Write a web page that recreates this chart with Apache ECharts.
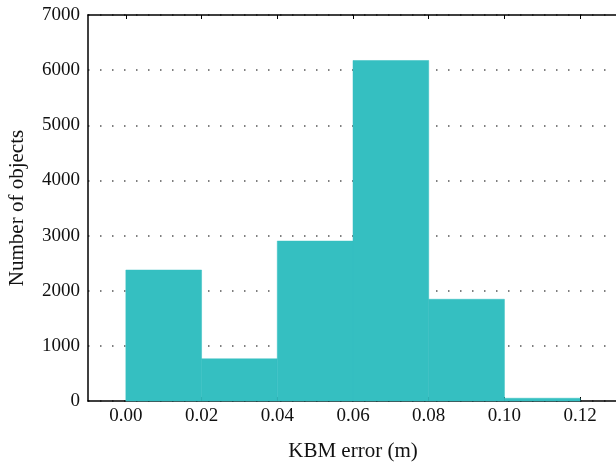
<!DOCTYPE html>
<html>
<head>
<meta charset="utf-8">
<script src="https://cdn.jsdelivr.net/npm/echarts@6/dist/echarts.min.js"></script>
<style>html,body{margin:0;padding:0;background:#fff}#c{width:616px;height:465px}</style>
</head>
<body>
<div id="c"></div>
<script>
var binStarts = [0.00, 0.02, 0.04, 0.06, 0.08, 0.10];
var binEnds = [0.02, 0.04, 0.06, 0.08, 0.10, 0.12];
var counts = [2375, 765, 2900, 6175, 1845, 50];
var xTicks = [0.00, 0.02, 0.04, 0.06, 0.08, 0.10, 0.12];

var font = 'Liberation Serif';
var chart = echarts.init(document.getElementById('c'));
var data = binStarts.map(function (s, i) { return [s, binEnds[i], counts[i]]; });
chart.setOption({
  animation: false,
  grid: { left: 88, right: -2, top: 15, bottom: 64, outerBoundsMode: 'none', containLabel: false },
  xAxis: [{
    type: 'value', min: -0.01, max: 0.13, interval: 0.01,
    name: 'KBM error (m)', nameLocation: 'middle', nameGap: 40,
    nameTextStyle: { fontFamily: font, fontSize: 21, color: '#111' },
    axisLine: { show: true, onZero: false, lineStyle: { color: '#000', width: 1.5 } },
    axisTick: { show: true, inside: true, length: 4, lineStyle: { color: '#000' },
      customValues: xTicks },
    axisLabel: { fontFamily: font, fontSize: 19, color: '#111', margin: 6,
      customValues: xTicks,
      formatter: function (v) { return v.toFixed(2); } },
    splitLine: { show: false }
  }, {
    type: 'value', position: 'top', min: -0.01, max: 0.13, interval: 0.01,
    axisLine: { show: true, onZero: false, lineStyle: { color: '#000', width: 1.5 } },
    axisTick: { show: true, inside: true, length: 4, lineStyle: { color: '#000' },
      customValues: xTicks },
    axisLabel: { show: false },
    splitLine: { show: false }
  }],
  yAxis: {
    type: 'value', min: 0, max: 7000, interval: 1000,
    name: 'Number of objects', nameLocation: 'middle', nameGap: 60,
    nameTextStyle: { fontFamily: font, fontSize: 21, color: '#111' },
    axisLine: { show: true, onZero: false, lineStyle: { color: '#000', width: 1.5 } },
    axisTick: { show: false },
    axisLabel: { fontFamily: font, fontSize: 19, color: '#111', margin: 8,
      formatter: function (v) { return String(v); } },
    splitLine: { show: true, lineStyle: { color: '#555', width: 1.5, type: [1.5, 10.5] } }
  },
  series: [{
    type: 'custom',
    data: data,
    encode: { x: [0, 1], y: 2 },
    renderItem: function (params, api) {
      var p0 = api.coord([api.value(0), 0]);
      var p1 = api.coord([api.value(1), api.value(2)]);
      return {
        type: 'rect',
        shape: { x: p0[0], y: p1[1], width: p1[0] - p0[0], height: p0[1] - p1[1] },
        style: { fill: '#35bfc1', stroke: '#35bfc1', lineWidth: 0.5 }
      };
    }
  }]
});
</script>
</body>
</html>
